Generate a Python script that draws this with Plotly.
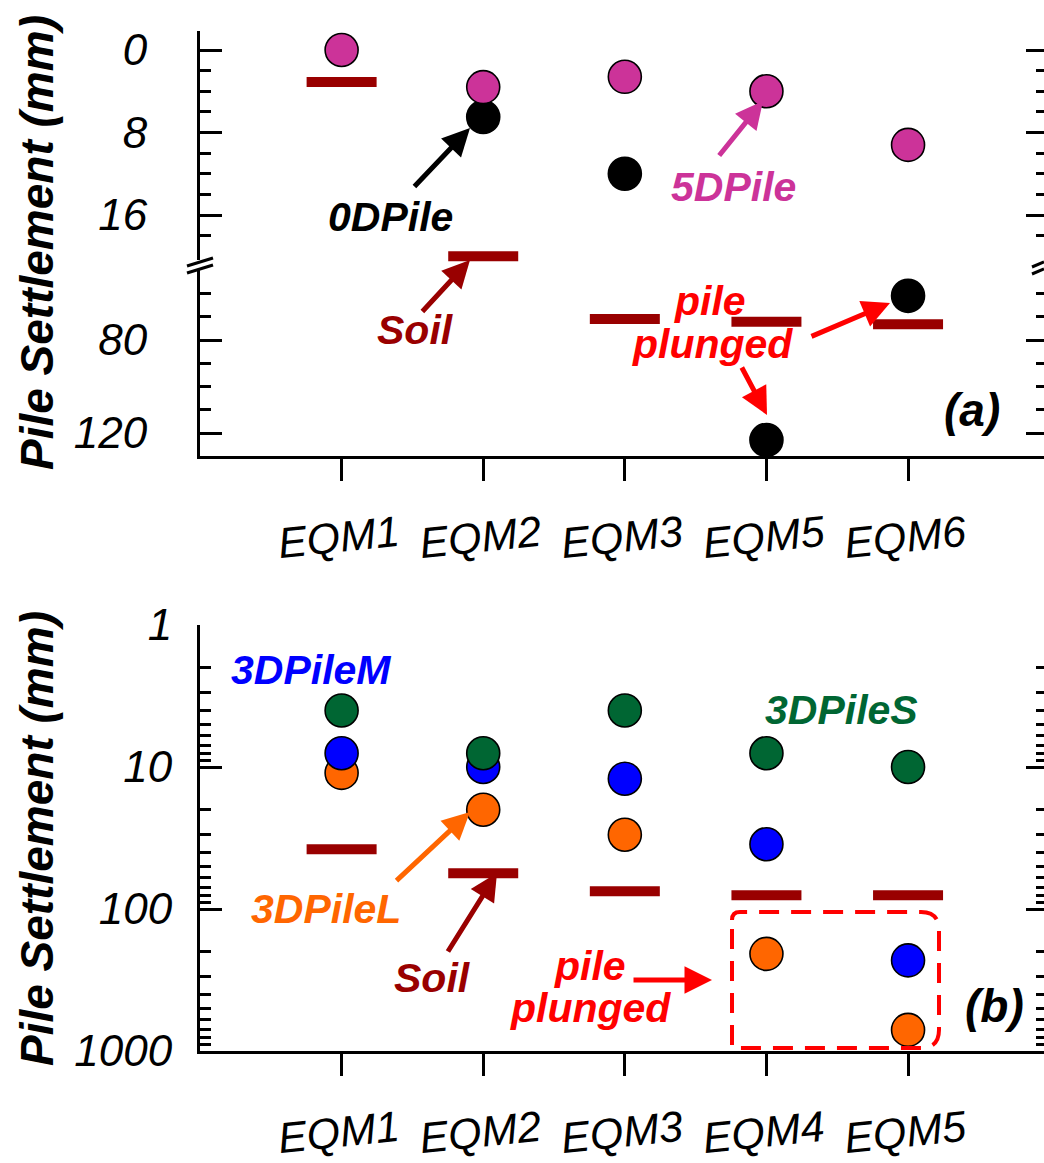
import plotly.graph_objects as go

# ---------------- data ----------------
cats_a = ["EQM1", "EQM2", "EQM3", "EQM5", "EQM6"]
pile5d_a = [0.0, 3.6, 2.6, 4.0, 9.2]
pile0d_a = [None, 6.5, 12.0, 123.0, 61.0]
soil_a = [3.1, 20.0, 71.0, 72.1, 73.2]

cats_b = ["EQM1", "EQM2", "EQM3", "EQM4", "EQM5"]
pileS_b = [4.0, 8.0, 4.0, 8.0, 10.0]
pileM_b = [8.0, 10.0, 12.1, 35.0, 230.0]
pileL_b = [11.0, 20.0, 30.0, 207.0, 710.0]
soil_b = [38.0, 56.0, 75.0, 80.0, 80.0]

ticks_a_upper = [0, 8, 16]
minor_a_upper = [2, 4, 6, 10, 12, 14, 18]
ticks_a_lower = [80, 120]
minor_a_lower = [60, 70, 90, 100, 110]
ticks_b = [1, 10, 100, 1000]
minor_b = [m * d for d in (1, 10, 100) for m in range(2, 10)]

# ---------------- styling ----------------
MAGENTA = "#CC3399"
GREEN = "#006633"
BLUE = "#0000FF"
ORANGE = "#FF6600"
SOIL = "#990000"
RED = "#FF0000"
FONT = "Arial, Liberation Sans, sans-serif"

W, H = 1044, 1163
ML, MR, MT, MB = 200, 0, 31, 112
PW, PH = W - ML - MR, H - MT - MB


def P(xp, yp):
    return (xp - ML) / PW, (H - MB - yp) / PH


# axis break for panel (a)
UP_RANGE = [20.557, -1.842]
LO_RANGE = [129.89, 46.45]
UP_MAX = 30.0
X_RANGE = [-1, 4.96]

dA_lo = P(0, 456)[1]
dA_mid = P(0, 262)[1]
dB_hi = P(0, 625)[1]

fig = go.Figure()


def circles(cats, vals, color, xaxis, yaxis, outline="black"):
    pts = [(c, v) for c, v in zip(cats, vals) if v is not None]
    if not pts:
        return
    fig.add_trace(go.Scatter(
        x=[p[0] for p in pts], y=[p[1] for p in pts], mode="markers",
        xaxis=xaxis, yaxis=yaxis, cliponaxis=False, hoverinfo="skip",
        marker=dict(size=33, color=color, line=dict(color=outline, width=1.6))))


def bars(cats, vals, xaxis, yaxis):
    pts = [(c, v) for c, v in zip(cats, vals) if v is not None]
    if not pts:
        return
    fig.add_trace(go.Scatter(
        x=[p[0] for p in pts], y=[p[1] for p in pts], mode="markers",
        xaxis=xaxis, yaxis=yaxis, cliponaxis=False, hoverinfo="skip",
        marker=dict(symbol="line-ew", size=50, line=dict(color=SOIL, width=10))))


def split(cats, vals):
    up = [v if (v is not None and v <= UP_MAX) else None for v in vals]
    lo = [v if (v is not None and v > UP_MAX) else None for v in vals]
    return up, lo


# panel (a)
for vals, kind, color in [(soil_a, "bar", None), (pile0d_a, "c", "black"), (pile5d_a, "c", MAGENTA)]:
    up, lo = split(cats_a, vals)
    for seg, ya in [(up, "y"), (lo, "y2")]:
        if kind == "bar":
            bars(cats_a, seg, "x", ya)
        else:
            circles(cats_a, seg, color, "x", ya)

# panel (b)
bars(cats_b, soil_b, "x3", "y5")
circles(cats_b, pileL_b, ORANGE, "x3", "y5")
circles(cats_b, pileM_b, BLUE, "x3", "y5")
circles(cats_b, pileS_b, GREEN, "x3", "y5")

# empty traces so the right-hand (mirror) axes get a subplot and are drawn
for xa, ya in [("x", "y3"), ("x", "y4"), ("x3", "y6")]:
    fig.add_trace(go.Scatter(x=[], y=[], xaxis=xa, yaxis=ya, mode="markers",
                             hoverinfo="skip", showlegend=False))

# ---------------- axes ----------------
tickfont_y = dict(family=FONT, size=44, color="black", style="italic")
tickfont_x = dict(family=FONT, size=43, color="black", style="italic")
base = dict(showgrid=False, zeroline=False, linecolor="black", linewidth=3,
            tickcolor="black", tickwidth=3, fixedrange=True, automargin=False)


def xbottom(cats, anchor):
    return dict(base, domain=[0, 1], anchor=anchor, type="category",
                categoryorder="array", categoryarray=cats, range=X_RANGE,
                showline=True, ticks="outside", ticklen=22, tickfont=tickfont_x,
                ticklabelstandoff=13, tickangle=-6, ticklabelshift=57)


def xtop(over, anchor, n):
    return dict(base, overlaying=over, anchor=anchor, side="top", range=X_RANGE,
                tickmode="array", tickvals=list(range(n)), showline=True,
                ticks="inside", ticklen=22, showticklabels=False)


def yleft(domain, rng, tickvals, minorvals, standoff, log=False):
    d = dict(base, domain=domain, anchor="x" if not log else "x3", range=rng,
             tickmode="array", tickvals=tickvals, ticktext=[str(t) for t in tickvals],
             showline=True, ticks="inside", ticklen=22, tickfont=tickfont_y,
             ticklabelstandoff=standoff,
             minor=dict(ticks="inside", ticklen=11, tickwidth=3, tickcolor="black",
                        tickmode="array", tickvals=minorvals))
    if log:
        d["type"] = "log"
    return d


def yright(over, anchor, rng, tickvals, minorvals, log=False):
    d = dict(base, overlaying=over, anchor=anchor, side="right", range=rng,
             tickmode="array", tickvals=tickvals, showline=False,
             ticks="inside", ticklen=18, showticklabels=False,
             minor=dict(ticks="inside", ticklen=8, tickwidth=3, tickcolor="black",
                        tickmode="array", tickvals=minorvals))
    if log:
        d["type"] = "log"
    return d


fig.update_layout(
    width=W, height=H, margin=dict(l=ML, r=MR, t=MT, b=MB, autoexpand=False),
    paper_bgcolor="white", plot_bgcolor="white", showlegend=False,
    xaxis=xbottom(cats_a, "y2"),
    xaxis2=xtop("x", "y", len(cats_a)),
    xaxis3=xbottom(cats_b, "y5"),
    xaxis4=xtop("x3", "y5", len(cats_b)),
    yaxis=yleft([dA_mid, 1], UP_RANGE, ticks_a_upper, minor_a_upper, 41),
    yaxis2=yleft([dA_lo, dA_mid], LO_RANGE, ticks_a_lower, minor_a_lower, 41),
    yaxis3=yright("y", "x", UP_RANGE, ticks_a_upper, minor_a_upper),
    yaxis4=yright("y2", "x", LO_RANGE, ticks_a_lower, minor_a_lower),
    yaxis5=yleft([0, dB_hi], [3, 0], ticks_b, minor_b, 16, log=True),
    yaxis6=yright("y5", "x3", [3, 0], ticks_b, minor_b, log=True),
)

# ---------------- annotations ----------------
ann = []


def text(s, xp, yp, color, size=41, bold=True):
    x, y = P(xp, yp)
    ann.append(dict(text=s, x=x, y=y, xref="paper", yref="paper", showarrow=False,
                    xanchor="center", yanchor="middle",
                    font=dict(family=FONT, size=size, color=color,
                              weight="bold" if bold else "normal", style="italic")))


def arrow(head, tail, color):
    x, y = P(*head)
    ann.append(dict(text="", x=x, y=y, xref="paper", yref="paper", showarrow=True,
                    ax=tail[0] - head[0], ay=tail[1] - head[1],
                    axref="pixel", ayref="pixel", arrowhead=2, arrowsize=1.1,
                    arrowwidth=5, arrowcolor=color))


# titles
for yc in (243, 839):
    x, y = P(37, yc)
    ann.append(dict(text="Pile Settlement (mm)", x=x, y=y, xref="paper", yref="paper",
                    showarrow=False, textangle=-90, xanchor="center", yanchor="middle",
                    font=dict(family=FONT, size=46, color="black", weight="bold",
                              style="italic")))

# panel (a)
text("0DPile", 390, 217, "black")
arrow((470, 128), (413, 188), "black")
text("5DPile", 733, 187, MAGENTA)
arrow((763, 101), (718, 157), MAGENTA)
text("Soil", 415, 330, SOIL)
arrow((470, 260), (421, 313), SOIL)
text("pile", 710, 301, RED)
text("plunged", 712, 344, RED)
arrow((890, 303), (810, 337), RED)
arrow((767, 415), (741, 366), RED)
text("(a)", 972, 410, "black", size=46)

# panel (b)
text("3DPileM", 311, 670, BLUE)
text("3DPileS", 841, 710, GREEN)
text("3DPileL", 326, 909, ORANGE)
arrow((470, 812), (395, 882), ORANGE)
text("Soil", 432, 978, SOIL)
arrow((497, 873), (447, 953), SOIL)
text("pile", 590, 966, RED)
text("plunged", 590, 1008, RED)
arrow((712, 980), (632, 980), RED)
text("(b)", 994, 1006, "black", size=46)

fig.update_layout(annotations=ann)

# ---------------- shapes: axis-break marks and dashed box ----------------
shapes = []


def seg(p0, p1, color="black", width=3):
    x0, y0 = P(*p0)
    x1, y1 = P(*p1)
    shapes.append(dict(type="line", xref="paper", yref="paper", x0=x0, y0=y0,
                       x1=x1, y1=y1, line=dict(color=color, width=width)))


# white gap then two slanted strokes at the left break
x0, y0 = P(195, 260)
x1, y1 = P(205, 270)
shapes.append(dict(type="rect", xref="paper", yref="paper", x0=x0, y0=y0, x1=x1, y1=y1,
                   fillcolor="white", line=dict(width=0)))
seg((187, 266), (213, 258))
seg((187, 273), (213, 265))
seg((1032, 267), (1044, 262))
seg((1032, 274), (1044, 269))

# dashed rounded box around plunged piles (panel b)
L, T, R, B, r = 732, 912, 939, 1048, 18


def pt(xp, yp):
    x, y = P(xp, yp)
    return f"{x:.5f},{y:.5f}"


path = (f"M {pt(L, T + 8)} Q {pt(L, T)} {pt(L + 8, T)} L {pt(R - r, T)} "
        f"Q {pt(R, T)} {pt(R, T + r)} L {pt(R, B - r)} Q {pt(R, B)} {pt(R - r, B)} "
        f"L {pt(L, B)} Z")
shapes.append(dict(type="path", xref="paper", yref="paper", path=path,
                   line=dict(color=RED, width=4, dash="20px,12px")))

fig.update_layout(shapes=shapes)

fig.write_html("out.html", config={"displayModeBar": False},
               post_script="document.body.style.margin='0';")
